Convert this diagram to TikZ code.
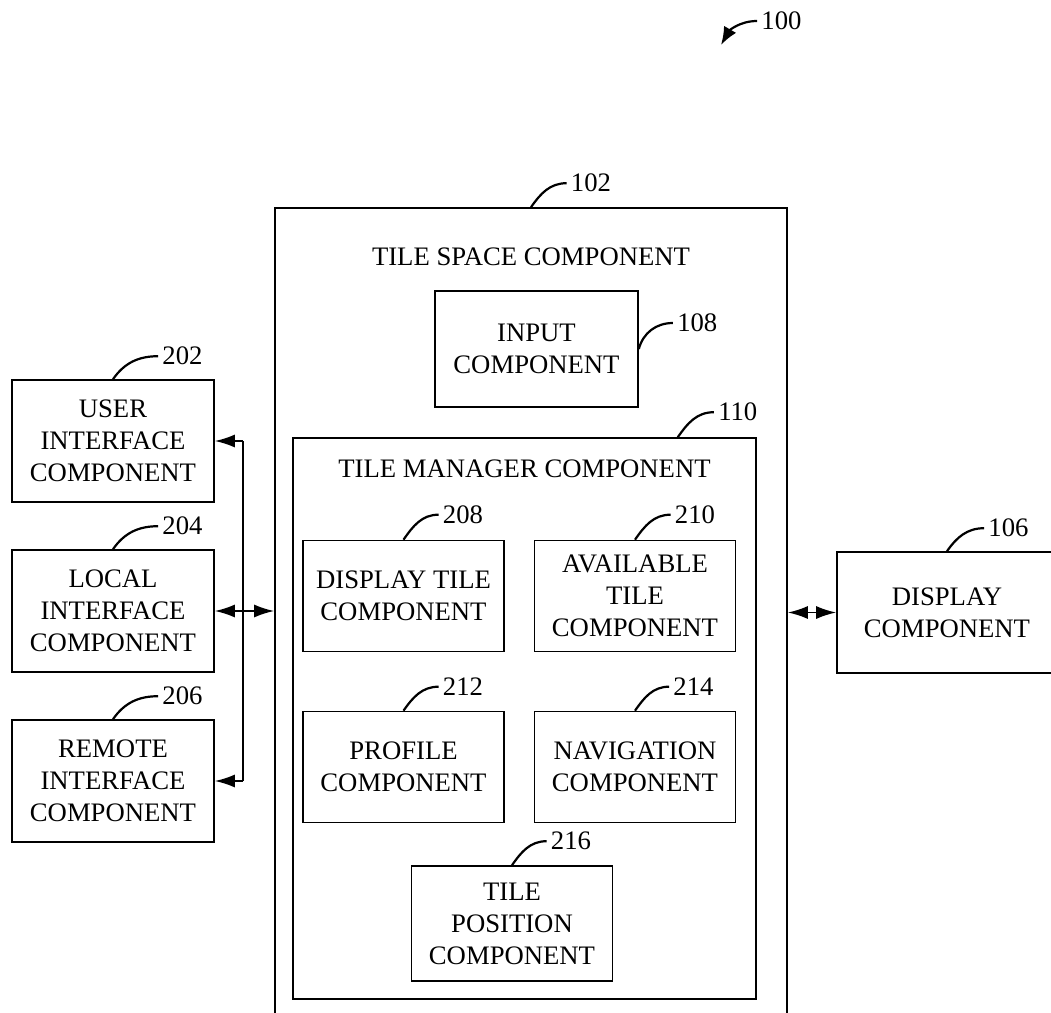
\documentclass[tikz,border=0pt]{standalone}
\usepackage{fontspec}
\setmainfont{Liberation Serif}
\usetikzlibrary{positioning, arrows.meta}

\begin{document}
\begin{tikzpicture}[x=0.5pt,y=-0.5pt,on grid,node distance=85pt,
    font=\fontsize{13.35}{16}\selectfont,
    comp/.style={draw,line width=0.8pt,align=center,inner sep=0pt},
    side/.style={comp,minimum width=101pt,minimum height=61pt},
    tile/.style={comp,minimum width=100.5pt,minimum height=55.5pt},
    tag/.style={inner sep=2pt},
    lead/.style={line width=1.1pt},
    arr/.style={line width=0.9pt,>={Latex[length=10pt,width=6.5pt]}}]
      \useasboundingbox (0,0) rectangle (1051,1013);
      \clip (0,0) rectangle (1051,1013);

      \node[comp,minimum width=256pt,minimum height=446pt] (c_102) at (531,654) {};
      \node (t_102) [below=25pt of c_102.north,anchor=center] {TILE SPACE COMPONENT};
      \node[comp,minimum width=101.5pt,minimum height=58pt] (c_108) at (536.5,349) {INPUT\\COMPONENT};
      \node[comp,minimum width=231.5pt,minimum height=280.5pt] (c_110) at (524.5,718.5) {};
      \node (t_110) [below=16pt of c_110.north,anchor=center] {TILE MANAGER COMPONENT};

      \node[tile] (c_208) at (403.5,596) {DISPLAY TILE\\COMPONENT};
      \node[tile] (c_210) [right=115.75pt of c_208] {AVAILABLE\\TILE\\COMPONENT};
      \node[tile] (c_212) [below=85.5pt of c_208] {PROFILE\\COMPONENT};
      \node[tile] (c_214) [right=115.75pt of c_212] {NAVIGATION\\COMPONENT};
      \node[tile,minimum height=57.5pt] (c_216) at (512,923.5) {TILE\\POSITION\\COMPONENT};

      \node[side] (c_202) at (113,441) {USER\\INTERFACE\\COMPONENT};
      \node[side] (c_204) [below of=c_202] {LOCAL\\INTERFACE\\COMPONENT};
      \node[side] (c_206) [below of=c_204] {REMOTE\\INTERFACE\\COMPONENT};
      \node[comp,minimum width=110pt,minimum height=60.5pt] (c_106) at (947,612.5) {DISPLAY\\COMPONENT};

      \coordinate (bus) at (243,611);
      \draw[arr,->] (bus |- c_202) -- (c_202.east);
      \draw[arr] (bus |- c_202) -- (bus |- c_206);
      \draw[arr,->] (bus |- c_206) -- (c_206.east);
      \draw[arr,<->] (c_204.east) -- (c_204.east -| c_102.west);
      \draw[arr,<->] (c_106.west -| c_102.east) -- (c_106.west);

      % reference numerals
      \node[tag] (l_202) [above right=11.5pt and 34.75pt of c_202.north,anchor=center] {202};
      \node[tag] (l_204) [above right=11.5pt and 34.75pt of c_204.north,anchor=center] {204};
      \node[tag] (l_206) [above right=11.5pt and 34.75pt of c_206.north,anchor=center] {206};
      \node[tag] (l_102) [above right=12pt and 30pt of c_102.north,anchor=center] {102};
      \node[tag] (l_108) [above right=13pt and 29.25pt of c_108.east,anchor=center] {108};
      \coordinate (p_110) at ([xshift=-39.5pt]c_110.north east);
      \node[tag] (l_110) [above right=12.5pt and 30pt of p_110,anchor=center] {110};
      \node[tag] (l_208) [above right=12.5pt and 29.75pt of c_208.north,anchor=center] {208};
      \node[tag] (l_210) [above right=12.5pt and 30pt of c_210.north,anchor=center] {210};
      \node[tag] (l_212) [above right=12pt and 29.75pt of c_212.north,anchor=center] {212};
      \node[tag] (l_214) [above right=12pt and 29.25pt of c_214.north,anchor=center] {214};
      \node[tag] (l_216) [above right=12pt and 29.5pt of c_216.north,anchor=center] {216};
      \node[tag] (l_106) [above right=11.5pt and 30.75pt of c_106.north,anchor=center] {106};
      \node[tag] (l_100) at (781.5,21) {100};
      \coordinate (p_100) at (721,45);

      \foreach \n in {202,204,206,102,208,210,212,214,216,106}
        \draw[lead] (c_\n.north) to[out=55,in=180] (l_\n.west);
      \draw[lead] (c_108.east) to[out=75,in=180] (l_108.west);
      \draw[lead] (p_110) to[out=55,in=180] (l_110.west);
      \draw[lead,-{Latex[length=9pt,width=7pt]}] (l_100.west) to[out=180,in=60] (p_100);
\end{tikzpicture}
\end{document}
